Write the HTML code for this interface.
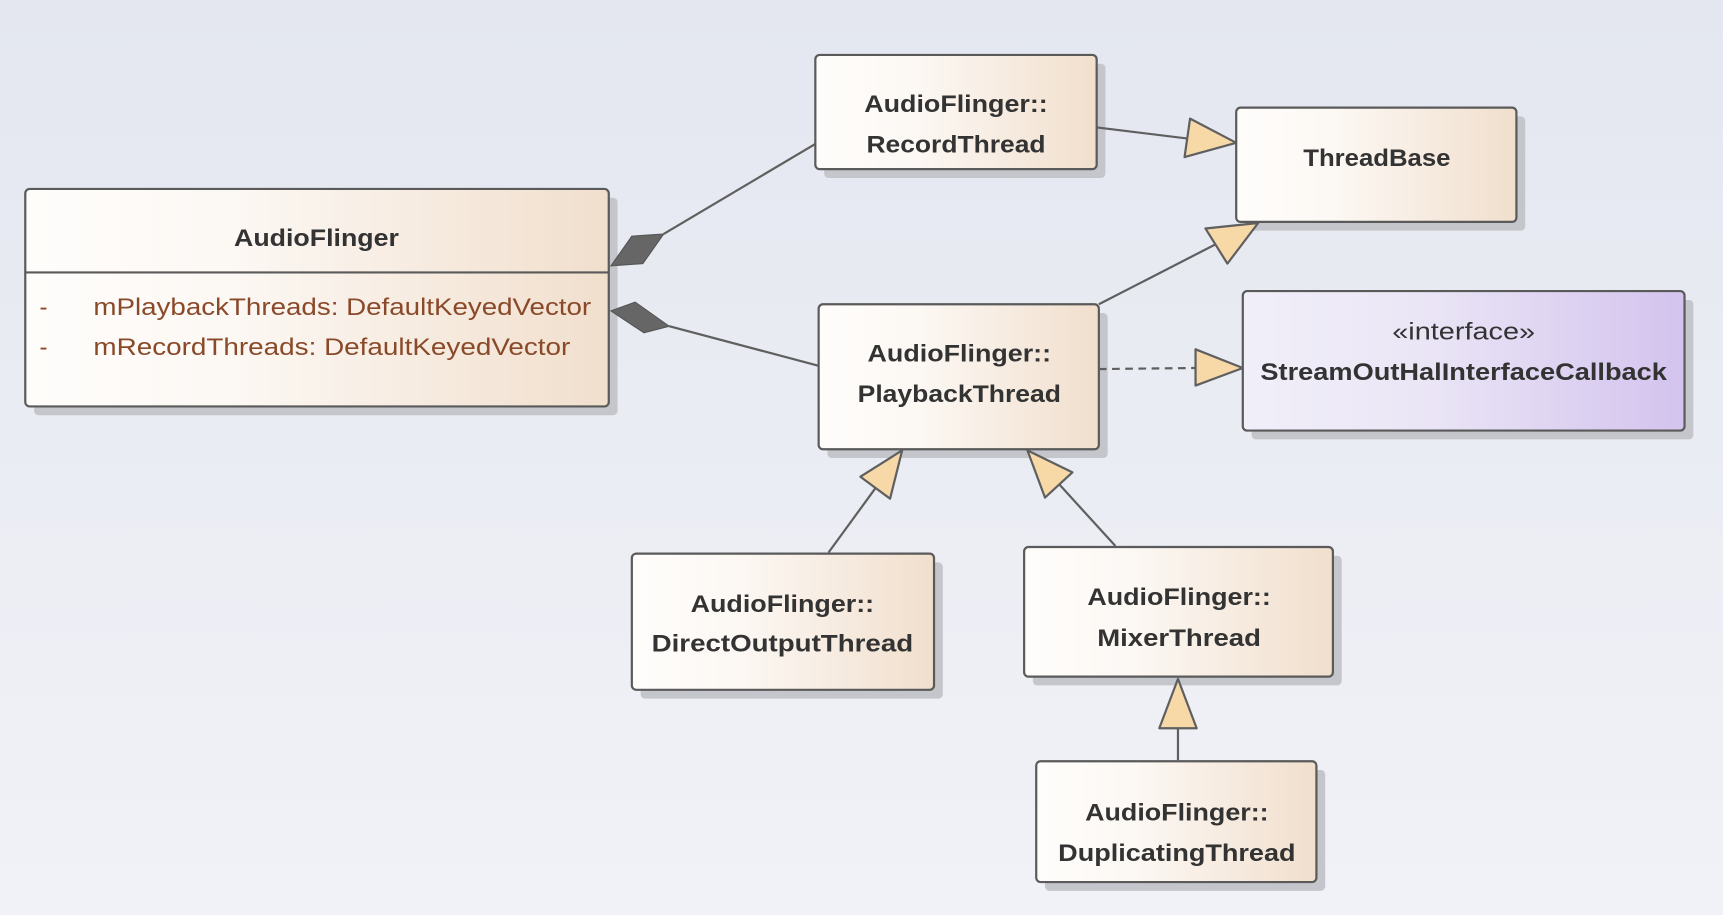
<!DOCTYPE html>
<html><head><meta charset="utf-8"><style>
html,body{margin:0;padding:0;width:1723px;height:915px;overflow:hidden;}
svg{display:block}
text{font-family:"Liberation Sans",sans-serif;}
.t{font-weight:bold;font-size:22px;fill:#333;text-anchor:middle}
.a{font-size:22px;fill:#8a4a2a}
</style></head><body>
<svg width="1723" height="915" viewBox="0 0 1568 833" preserveAspectRatio="none" xmlns="http://www.w3.org/2000/svg">
<defs>
<linearGradient id="bg" x1="0" y1="0" x2="0" y2="1"><stop offset="0" stop-color="#e4e7f0"/><stop offset="1" stop-color="#f1f2f7"/></linearGradient>
<linearGradient id="bx" x1="0" y1="0" x2="1" y2="0"><stop offset="0" stop-color="#fffdfb"/><stop offset="0.35" stop-color="#fcf8f4"/><stop offset="1" stop-color="#f1dfcd"/></linearGradient>
<linearGradient id="px" x1="0" y1="0" x2="1" y2="0"><stop offset="0" stop-color="#f1eff9"/><stop offset="0.4" stop-color="#ebe6f6"/><stop offset="1" stop-color="#d3c3ee"/></linearGradient>
</defs>
<rect width="1568" height="833" fill="url(#bg)"/>
<g fill="#c4c6cc">
<rect x="31" y="180" width="531" height="198" rx="4"/>
<rect x="750" y="58" width="256" height="104" rx="4"/>
<rect x="1133" y="106" width="255" height="104" rx="4"/>
<rect x="753" y="285" width="255" height="132" rx="4"/>
<rect x="1139" y="273" width="402" height="127" rx="4"/>
<rect x="583" y="512" width="275" height="124" rx="4"/>
<rect x="940" y="506" width="281" height="118" rx="4"/>
<rect x="951" y="701" width="255" height="110" rx="4"/>
</g>
<g stroke="#5f5f5f" stroke-width="2" fill="none">
<line x1="604" y1="213" x2="742" y2="131"/>
<line x1="609" y1="297" x2="745" y2="333"/>
<line x1="998" y1="116" x2="1080" y2="126"/>
<line x1="1000" y1="277" x2="1107" y2="222"/>
<line x1="1000" y1="336" x2="1088" y2="335" stroke-dasharray="7,5"/>
<line x1="754" y1="503" x2="797" y2="444"/>
<line x1="1015" y1="497" x2="964" y2="441"/>
<line x1="1072" y1="692" x2="1072" y2="663"/>
</g>
<g fill="#666" stroke="#555" stroke-width="1">
<polygon points="556,242 575,215 604,213 585,240"/>
<polygon points="556,283 578,275 609,297 586,303"/>
</g>
<g fill="#f7d9a8" stroke="#5f5f5f" stroke-width="2" stroke-linejoin="round">
<polygon points="1125,130 1078,143 1083,108"/>
<polygon points="1145,203 1097,208 1117,240"/>
<polygon points="1131,335 1088,318 1088,351"/>
<polygon points="821,410 810,454 783,434"/>
<polygon points="935,410 951,453 976,430"/>
<polygon points="1072,618 1055,663 1089,663"/>
</g>
<g stroke="#5a5a5a" stroke-width="2">
<rect x="23" y="172" width="531" height="198" rx="4" fill="url(#bx)"/>
<line x1="23" y1="248" x2="554" y2="248"/>
<rect x="742" y="50" width="256" height="104" rx="4" fill="url(#bx)"/>
<rect x="1125" y="98" width="255" height="104" rx="4" fill="url(#bx)"/>
<rect x="745" y="277" width="255" height="132" rx="4" fill="url(#bx)"/>
<rect x="1131" y="265" width="402" height="127" rx="4" fill="url(#px)"/>
<rect x="575" y="504" width="275" height="124" rx="4" fill="url(#bx)"/>
<rect x="932" y="498" width="281" height="118" rx="4" fill="url(#bx)"/>
<rect x="943" y="693" width="255" height="110" rx="4" fill="url(#bx)"/>
</g>
<text class="t" x="288" y="224" textLength="150" lengthAdjust="spacingAndGlyphs">AudioFlinger</text>
<text class="a" x="36" y="287">-</text>
<text class="a" x="85" y="287" textLength="453" lengthAdjust="spacingAndGlyphs">mPlaybackThreads: DefaultKeyedVector</text>
<text class="a" x="36" y="323">-</text>
<text class="a" x="85" y="323" textLength="434" lengthAdjust="spacingAndGlyphs">mRecordThreads: DefaultKeyedVector</text>
<text class="t" x="870" y="102" textLength="167" lengthAdjust="spacingAndGlyphs">AudioFlinger::</text>
<text class="t" x="870" y="139" textLength="163" lengthAdjust="spacingAndGlyphs">RecordThread</text>
<text class="t" x="1253" y="151" textLength="134" lengthAdjust="spacingAndGlyphs">ThreadBase</text>
<text class="t" x="873" y="329" textLength="167" lengthAdjust="spacingAndGlyphs">AudioFlinger::</text>
<text class="t" x="873" y="366" textLength="185" lengthAdjust="spacingAndGlyphs">PlaybackThread</text>
<text x="1332" y="309" textLength="130" lengthAdjust="spacingAndGlyphs" style="font-size:22px;fill:#333;text-anchor:middle">«interface»</text>
<text class="t" x="1332" y="346" textLength="370" lengthAdjust="spacingAndGlyphs">StreamOutHalInterfaceCallback</text>
<text class="t" x="712" y="557" textLength="167" lengthAdjust="spacingAndGlyphs">AudioFlinger::</text>
<text class="t" x="712" y="593" textLength="238" lengthAdjust="spacingAndGlyphs">DirectOutputThread</text>
<text class="t" x="1073" y="551" textLength="167" lengthAdjust="spacingAndGlyphs">AudioFlinger::</text>
<text class="t" x="1073" y="588" textLength="149" lengthAdjust="spacingAndGlyphs">MixerThread</text>
<text class="t" x="1071" y="747" textLength="167" lengthAdjust="spacingAndGlyphs">AudioFlinger::</text>
<text class="t" x="1071" y="784" textLength="216" lengthAdjust="spacingAndGlyphs">DuplicatingThread</text>
</svg>
</body></html>
